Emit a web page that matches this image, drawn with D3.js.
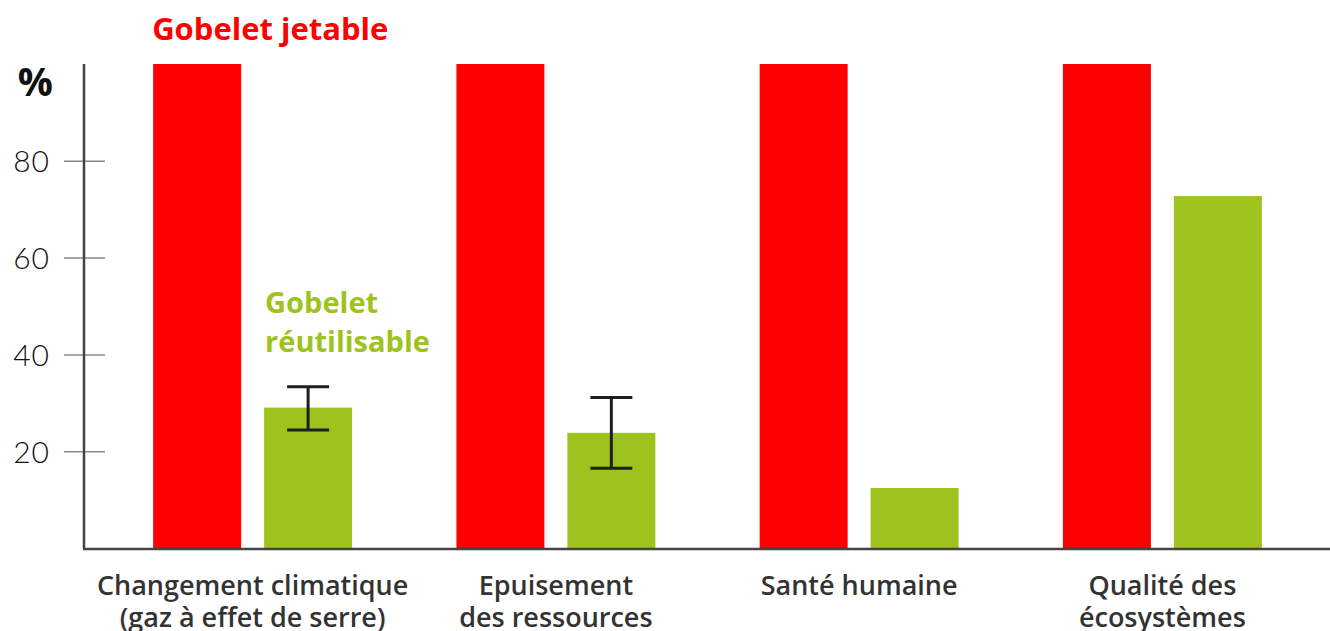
<!DOCTYPE html>
<html>
<head>
<meta charset="utf-8">
<script src="https://cdn.jsdelivr.net/npm/d3@7"></script>
<style>
  html, body { margin: 0; padding: 0; background: #fff; }
  svg { display: block; }
</style>
</head>
<body>
<svg id="chart"></svg>
<script>
// categories, each label split into lines
const categories = ["climat", "ressources", "sante", "ecosystemes"];
const categoryLabels = [
  ["Changement climatique", "(gaz à effet de serre)"],
  ["Epuisement", "des ressources"],
  ["Santé humaine"],
  ["Qualité des", "écosystèmes"]
];
const series = ["jetable", "reutilisable"];
const jetableValues = [100, 100, 100, 100];
const reutilisableValues = [29, 23.8, 12.4, 72.7];
// error bars [low, high], null when none
const errorLow = [24.4, 16.5, null, null];
const errorHigh = [33.3, 31.1, null, null];
const yTicks = [20, 40, 60, 80];

const width = 1330;
const height = 631;
const red = "#ff0000";
const green = "#9ec31e";

const svg = d3.select("#chart").attr("width", width).attr("height", height);

const x0 = d3.scaleBand()
  .domain(categories)
  .range([101, 1314])
  .paddingInner(0.344)
  .paddingOuter(0.172);

const x1 = d3.scaleBand()
  .domain(series)
  .range([0, x0.bandwidth()])
  .paddingInner(0.207);

const y = d3.scaleLinear().domain([0, 100]).range([548, 64]);

// bars
const groups = svg.append("g")
  .selectAll("g")
  .data(categories)
  .join("g")
  .attr("transform", function (d) { return "translate(" + x0(d) + ",0)"; });

groups.append("rect")
  .attr("x", x1("jetable"))
  .attr("y", function (d, i) { return y(jetableValues[i]); })
  .attr("width", x1.bandwidth())
  .attr("height", function (d, i) { return y(0) - y(jetableValues[i]); })
  .attr("fill", red);

groups.append("rect")
  .attr("x", x1("reutilisable"))
  .attr("y", function (d, i) { return y(reutilisableValues[i]); })
  .attr("width", x1.bandwidth())
  .attr("height", function (d, i) { return y(0) - y(reutilisableValues[i]); })
  .attr("fill", green);

// error bars
const err = groups.filter(function (d, i) { return errorLow[i] !== null; })
  .append("g")
  .attr("stroke", "#1e1e1e")
  .attr("stroke-width", 3);

const cx = x1("reutilisable") + x1.bandwidth() / 2;
err.append("line")
  .attr("x1", cx).attr("x2", cx)
  .attr("y1", function (d) { return y(errorHigh[categories.indexOf(d)]); })
  .attr("y2", function (d) { return y(errorLow[categories.indexOf(d)]); });
err.append("line")
  .attr("x1", cx - 21).attr("x2", cx + 21)
  .attr("y1", function (d) { return y(errorHigh[categories.indexOf(d)]); })
  .attr("y2", function (d) { return y(errorHigh[categories.indexOf(d)]); });
err.append("line")
  .attr("x1", cx - 21).attr("x2", cx + 21)
  .attr("y1", function (d) { return y(errorLow[categories.indexOf(d)]); })
  .attr("y2", function (d) { return y(errorLow[categories.indexOf(d)]); });

// y axis
const yAxis = d3.axisLeft(y).tickValues(yTicks).tickSize(0).tickPadding(34);
const gy = svg.append("g")
  .attr("transform", "translate(84,0)")
  .call(yAxis);
gy.select(".domain").remove();
gy.selectAll("text")
  .attr("font-family", "Lato, sans-serif")
  .attr("font-weight", 300)
  .attr("font-size", 30)
  .attr("letter-spacing", 1)
  .attr("fill", "#111")
  .attr("dy", "0.36em");
gy.selectAll(".tick").append("line")
  .attr("x1", -20).attr("x2", 21)
  .attr("stroke", "#888")
  .attr("stroke-width", 1.5);

svg.append("line")
  .attr("x1", 84).attr("x2", 84)
  .attr("y1", y(100)).attr("y2", 549)
  .attr("stroke", "#444")
  .attr("stroke-width", 2.5);

// baseline
svg.append("line")
  .attr("x1", 83).attr("x2", width)
  .attr("y1", 549).attr("y2", 549)
  .attr("stroke", "#444")
  .attr("stroke-width", 2.5);

svg.append("text")
  .attr("x", 53).attr("y", 96)
  .attr("text-anchor", "end")
  .attr("font-family", "'Open Sans', sans-serif")
  .attr("font-weight", 700)
  .attr("font-size", 39)
  .attr("fill", "#111")
  .text("%");

// category labels
const labels = svg.append("g")
  .selectAll("text")
  .data(categories)
  .join("text")
  .attr("x", function (d) { return x0(d) + x0.bandwidth() / 2; })
  .attr("y", 595)
  .attr("text-anchor", "middle")
  .attr("font-family", "'Open Sans', sans-serif")
  .attr("font-weight", 600)
  .attr("font-size", 27)
  .attr("fill", "#333");
labels.selectAll("tspan")
  .data(function (d, i) { return categoryLabels[i]; })
  .join("tspan")
  .attr("x", function () { return this.parentNode.getAttribute("x"); })
  .attr("dy", function (d, i) { return i === 0 ? 0 : 32; })
  .text(function (d) { return d; });

// series labels
svg.append("text")
  .attr("x", x0(categories[0]) + x1("jetable") - 1)
  .attr("y", 40)
  .attr("font-family", "'Open Sans', sans-serif")
  .attr("font-weight", 700)
  .attr("font-size", 31)
  .attr("fill", red)
  .text("Gobelet jetable");

const lab2 = svg.append("text")
  .attr("x", x0(categories[0]) + x1("reutilisable") + 1)
  .attr("y", 313)
  .attr("font-family", "'Open Sans', sans-serif")
  .attr("font-weight", 700)
  .attr("font-size", 29)
  .attr("fill", green);
lab2.append("tspan").text("Gobelet");
lab2.append("tspan")
  .attr("x", x0(categories[0]) + x1("reutilisable") + 1)
  .attr("dy", 39)
  .text("réutilisable");
</script>
</body>
</html>
